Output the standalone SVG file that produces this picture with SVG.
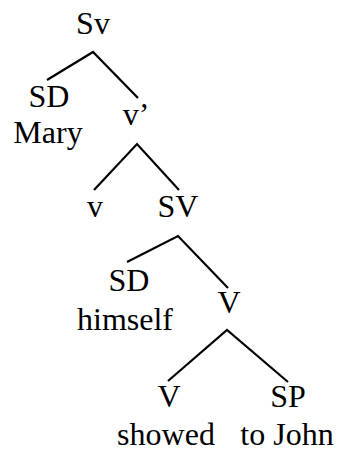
<svg xmlns="http://www.w3.org/2000/svg" width="337" height="452" viewBox="0 0 337 452">
  <style>
    text { font-family: "Liberation Serif", "Times New Roman", serif; font-size: 32px; fill: #000; text-anchor: middle; }
    .edge { stroke: #000; stroke-width: 2.2; fill: none; stroke-linecap: butt; }
  </style>
  <rect width="337" height="452" fill="#fff"/>
  <!-- branches of the tree -->
  <g id="connectors">
    <polyline class="edge" points="47,80 93,52 138,98"/>
    <polyline class="edge" points="94,190 137,144 179,190"/>
    <polyline class="edge" points="127,262 178,236 228,288"/>
    <polyline class="edge" points="168,381 227,330 288,382"/>
  </g>
  <g id="Sv"><text x="93" y="34">Sv</text></g>
  <g id="SD-Mary"><text x="49" y="107">SD</text><text x="48" y="143">Mary</text></g>
  <g id="v-bar"><text x="136" y="125">v’</text></g>
  <g id="v"><text x="95" y="217">v</text></g>
  <g id="SV"><text x="178" y="217">SV</text></g>
  <g id="SD-himself"><text x="129" y="291">SD</text><text x="125" y="330">himself</text></g>
  <g id="V-bar"><text x="229" y="313">V</text></g>
  <g id="V"><text x="169" y="407">V</text></g>
  <g id="SP"><text x="288" y="407">SP</text></g>
  <g id="words"><text x="166" y="445">showed</text><text x="287" y="445">to John</text></g>
</svg>
